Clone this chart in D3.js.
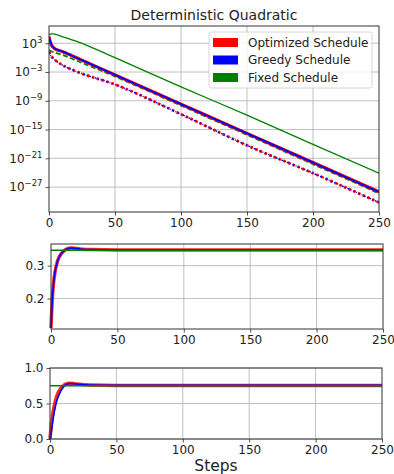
<!DOCTYPE html>
<html>
<head>
<meta charset="utf-8">
<script src="https://cdn.jsdelivr.net/npm/d3@7"></script>
<style>
  body { margin: 0; background: #fff; }
  svg text { font-family: "DejaVu Sans", sans-serif; fill: #222; }
  .grid line { stroke: #b0b0b0; stroke-width: 0.8; }
</style>
</head>
<body>
<div id="chart"></div>
<script>
// steps (sparse points)
const lossSteps = [0, 1, 2, 3, 5, 10, 20, 50, 100, 150, 200, 250];
const optLoss = [2.5e4, 2e3, 4e2, 1.6e2, 6e1, 2e1, 1.2e0, 2.5e-4, 2e-10, 1.6e-16, 1.3e-22, 1e-28];
const greedyLoss = [2.5e4, 2e3, 4e2, 1.6e2, 6e1, 2e1, 1.2e0, 2.5e-4, 2e-10, 1.6e-16, 1.3e-22, 1e-28];
const fixedLoss = [4e1, 2.5e1, 2e1, 1.6e1, 1e1, 4e0, 3e-1, 1.2e-4, 1e-10, 8e-17, 6e-23, 5e-29];
const lossSteps2 = [0, 1, 2, 3, 5, 10, 20, 30, 50, 100, 150, 200, 250];
const fixedLossTop = [6e4, 8e4, 9e4, 9e4, 7e4, 2.5e4, 3e3, 2.5e2, 1e0, 8e-7, 1e-12, 8e-19, 8e-25];
const dotSteps = [0, 1, 2, 5, 10, 20, 50, 100, 150, 200, 250];
const optDot = [1.6e1, 4e0, 1.6e0, 2.5e-1, 3e-2, 1.6e-3, 2.5e-6, 1.6e-12, 5e-19, 8e-25, 6e-31];
const greedyDot = [1.6e1, 4e0, 1.6e0, 2.5e-1, 3e-2, 1.6e-3, 2.5e-6, 1.6e-12, 5e-19, 8e-25, 6e-31];
const logTicks = [1e3, 1e-3, 1e-9, 1e-15, 1e-21, 1e-27];
const logTickExp = ["3", "\u22123", "\u22129", "\u221215", "\u221221", "\u221227"];

const rateSteps = [0, 1, 2, 3, 5, 8, 10, 12, 15, 18, 22, 30, 50, 100, 250];
const optRate = [0.11, 0.2, 0.25, 0.28, 0.315, 0.338, 0.346, 0.351, 0.354, 0.353, 0.351, 0.349, 0.348, 0.348, 0.348];
const greedyRate = [0.11, 0.2, 0.25, 0.28, 0.315, 0.338, 0.346, 0.351, 0.354, 0.353, 0.351, 0.349, 0.348, 0.348, 0.348];
const fixedRate = [0.347, 0.347];
const fixedSteps = [0, 250];

const momSteps = [0, 1, 2, 3, 5, 8, 10, 12, 15, 18, 22, 30, 50, 100, 250];
const optMom = [0, 0.2, 0.34, 0.45, 0.6, 0.71, 0.75, 0.775, 0.785, 0.78, 0.77, 0.76, 0.755, 0.755, 0.755];
const greedyMom = [0, 0.1, 0.24, 0.36, 0.53, 0.67, 0.73, 0.765, 0.782, 0.78, 0.77, 0.76, 0.755, 0.755, 0.755];
const fixedMom = [0.75, 0.75];

const xTicks = [0, 50, 100, 150, 200, 250];
const legendLabels = ["Optimized Schedule", "Greedy Schedule", "Fixed Schedule"];
const colors = { opt: "#ff0000", greedy: "#0000ff", fixed: "#008000" };

const W = 394, H = 474;
const svg = d3.select("#chart").append("svg").attr("width", W).attr("height", H);

function panel(box, yScale, yTicks, yFmt) {
  const x = d3.scaleLinear().domain([0, 250]).range([box.l, box.r]);
  const g = svg.append("g");
  // grid
  g.append("g").attr("class", "grid").selectAll("line").data(xTicks.slice(1, -1)).join("line")
    .attr("x1", d => x(d)).attr("x2", d => x(d)).attr("y1", box.t).attr("y2", box.b);
  g.append("g").attr("class", "grid").selectAll("line").data(yTicks).join("line")
    .attr("x1", box.l).attr("x2", box.r).attr("y1", d => yScale(d)).attr("y2", d => yScale(d));
  const plot = g.append("g");
  // axes
  const xa = g.append("g").attr("transform", `translate(0,${box.b})`)
    .call(d3.axisBottom(x).tickValues(xTicks).tickSize(3.5).tickPadding(3));
  const ya = g.append("g").attr("transform", `translate(${box.l},0)`)
    .call(d3.axisLeft(yScale).tickValues(yTicks).tickSize(3.5).tickPadding(3).tickFormat(yFmt || null));
  [xa, ya].forEach(a => {
    a.select(".domain").remove();
    a.selectAll("line").attr("stroke", "#222").attr("stroke-width", 0.8);
    a.selectAll("text").attr("font-size", 12).attr("fill", "#222");
  });
  g.append("rect").attr("x", box.l).attr("y", box.t).attr("width", box.r - box.l).attr("height", box.b - box.t)
    .attr("fill", "none").attr("stroke", "#333").attr("stroke-width", 1);
  return { x, plot, ya };
}

function drawLine(p, y, xs, ys, color, width, dash, opacity) {
  const line = d3.line().x((d, i) => p.x(xs[i])).y(d => y(d)).curve(d3.curveMonotoneX);
  p.plot.append("path").datum(ys).attr("d", line).attr("fill", "none")
    .attr("stroke", color).attr("stroke-width", width)
    .attr("stroke-dasharray", dash || null).attr("opacity", opacity || 1);
}

// top panel: loss (log)
const topBox = { l: 49, r: 379, t: 26, b: 212 };
const yLog = d3.scaleLog().domain([Math.pow(10, -32.2), Math.pow(10, 6.6)]).range([topBox.b, topBox.t]);
const p1 = panel(topBox, yLog, logTicks, () => "");
p1.ya.selectAll(".tick text").each(function (d, i) {
  const t = d3.select(this).text(null);
  t.append("tspan").text("10");
  t.append("tspan").attr("dy", -5).attr("font-size", 8.5).text(logTickExp[i]);
});
const clip = svg.append("clipPath").attr("id", "c1").append("rect")
  .attr("x", topBox.l).attr("y", topBox.t).attr("width", topBox.r - topBox.l).attr("height", topBox.b - topBox.t);
p1.plot.attr("clip-path", "url(#c1)");
drawLine(p1, yLog, dotSteps, optDot, colors.opt, 2.8, "2.5,2.6");
drawLine(p1, yLog, dotSteps, greedyDot, colors.greedy, 1.3, "2,1.5,1,1.5");
drawLine(p1, yLog, lossSteps, fixedLoss, colors.fixed, 1.8, "5,2.5");
drawLine(p1, yLog, lossSteps, optLoss, colors.opt, 3.2);
drawLine(p1, yLog, lossSteps, greedyLoss, colors.greedy, 1.8);
drawLine(p1, yLog, lossSteps2, fixedLossTop, colors.fixed, 1.3);

svg.append("text").attr("x", (topBox.l + topBox.r) / 2).attr("y", 20).attr("text-anchor", "middle")
  .attr("font-size", 14).text("Deterministic Quadratic");

// legend
const lg = svg.append("g").attr("transform", "translate(209,32)");
lg.append("rect").attr("width", 163).attr("height", 56).attr("rx", 2.5)
  .attr("fill", "#fff").attr("fill-opacity", 0.8).attr("stroke", "#ccc").attr("stroke-width", 0.8);
legendLabels.forEach((lab, i) => {
  const c = [colors.opt, colors.greedy, colors.fixed][i];
  lg.append("rect").attr("x", 4).attr("y", 6 + i * 17.5).attr("width", 25).attr("height", 9).attr("fill", c);
  lg.append("text").attr("x", 39).attr("y", 14.5 + i * 17.5).attr("font-size", 12).text(lab);
});

// middle panel: learning rate
const midBox = { l: 51, r: 383, t: 244, b: 329 };
const yMid = d3.scaleLinear().domain([0.107, 0.366]).range([midBox.b, midBox.t]);
const p2 = panel(midBox, yMid, [0.2, 0.3], d3.format(".1f"));
drawLine(p2, yMid, rateSteps, optRate, colors.opt, 3.5, null, 0.85);
drawLine(p2, yMid, rateSteps, greedyRate, colors.greedy, 1.6);
drawLine(p2, yMid, fixedSteps, fixedRate, colors.fixed, 1.3);

// bottom panel: momentum
const botBox = { l: 50, r: 382, t: 368, b: 439 };
const yBot = d3.scaleLinear().domain([0, 1]).range([botBox.b, botBox.t]);
const p3 = panel(botBox, yBot, [0, 0.5, 1], d3.format(".1f"));
drawLine(p3, yBot, momSteps, optMom, colors.opt, 3.5, null, 0.85);
drawLine(p3, yBot, momSteps, greedyMom, colors.greedy, 1.6);
drawLine(p3, yBot, fixedSteps, fixedMom, colors.fixed, 1.3);

svg.append("text").attr("x", (botBox.l + botBox.r) / 2).attr("y", 471).attr("text-anchor", "middle")
  .attr("font-size", 15.5).text("Steps");
</script>
</body>
</html>
